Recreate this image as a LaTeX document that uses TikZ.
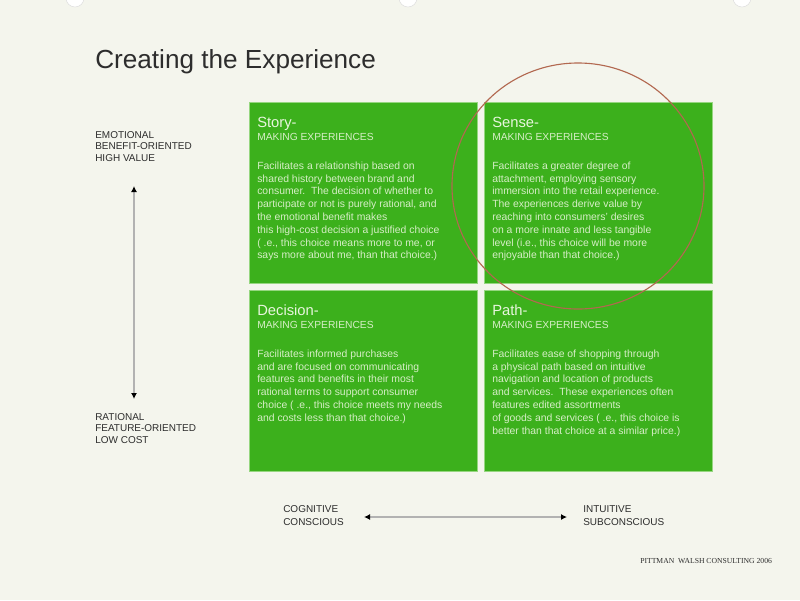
\documentclass[tikz,border=0pt]{standalone}
\usepackage{fontspec}
\setmainfont{Liberation Sans}
\newfontfamily\footfont{Liberation Serif}
\usetikzlibrary{arrows.meta}

\definecolor{bgcol}{RGB}{244,245,237}
\definecolor{quadcol}{RGB}{60,176,28}
\definecolor{edgecol}{RGB}{150,214,128}
\definecolor{bodycol}{RGB}{214,238,198}
\definecolor{headcol}{RGB}{232,246,222}
\definecolor{ringcol}{RGB}{178,104,80}
\definecolor{labcol}{RGB}{45,45,45}

\newcommand{\quadrant}[5]{%
  % #1 name, #2 x, #3 y (top left), #4 heading, #5 body
  \fill[quadcol, draw=edgecol, line width=0.6pt] (#2,#3) rectangle ++(228,181);
  \coordinate (#1) at (#2,#3);
  \node[qhead] (#1-head) at (#2+8,#3+25) {#4-};
  \node[qsub] (#1-sub) at (#2+8,#3+38.5) {MAKING EXPERIENCES};
  \node[qbody] (#1-body) at (#2+8,#3+59.5) {#5};
}

\begin{document}
\begin{tikzpicture}[x=0.025cm, y=-0.025cm,
  qhead/.style={anchor=base west, inner sep=0, text=headcol, font=\fontsize{10.5}{12}\selectfont},
  qsub/.style={anchor=base west, inner sep=0, text=bodycol, font=\fontsize{7.3}{9}\selectfont},
  qbody/.style={anchor=north west, inner sep=0, align=left, text=bodycol, font=\fontsize{7.4}{9.1}\selectfont},
  axlab/.style={anchor=north west, inner sep=0, align=left, text=labcol, font=\fontsize{7.1}{8.3}\selectfont},
  axis/.style={{Latex[length=1.5mm,width=1.5mm,black]}-{Latex[length=1.5mm,width=1.5mm,black]}, line width=1.4pt, draw=gray!60}]

% ===== PAGE =====
\useasboundingbox (0,0) rectangle (800,600);
\fill[bgcol] (0,0) rectangle (800,600);
\foreach \hx in {75,408,742}
  \fill[white, draw=gray!25] (\hx,-2) circle (9);

% ===== TITLE =====
\node[anchor=base west, inner sep=0, text=labcol, font=\fontsize{18.6}{22}\selectfont] (title) at (95,68) {Creating the Experience};

% ===== QUADRANTS =====
\quadrant{story}{249}{102}{Story}{Facilitates a relationship based on\\shared history between brand and\\consumer.\ \ The decision of whether to\\participate or not is purely rational, and\\the emotional benefit makes\\this high-cost decision a justified choice\\( .e., this choice means more to me, or\\says more about me, than that choice.)}
\quadrant{sense}{484}{102}{Sense}{Facilitates a greater degree of\\attachment, employing sensory\\immersion into the retail experience.\\The experiences derive value by\\reaching into consumers' desires\\on a more innate and less tangible\\level (i.e., this choice will be more\\enjoyable than that choice.)}
\quadrant{decision}{249}{290}{Decision}{Facilitates informed purchases\\and are focused on communicating\\features and benefits in their most\\rational terms to support consumer\\choice ( .e., this choice meets my needs\\and costs less than that choice.)}
\quadrant{path}{484}{290}{Path}{Facilitates ease of shopping through\\a physical path based on intuitive\\navigation and location of products\\and services.\ \ These experiences often\\features edited assortments\\of goods and services ( .e., this choice is\\better than that choice at a similar price.)}

% highlight ring
\draw[ringcol, line width=0.8pt] (578,186) ellipse [x radius=126, y radius=123];

% ===== AXES =====
\node[axlab] (emo) at (95,131) {EMOTIONAL\\BENEFIT-ORIENTED\\HIGH VALUE};
\node[axlab] (rat) at (95,413) {RATIONAL\\FEATURE-ORIENTED\\LOW COST};
\node[axlab, font=\fontsize{7.1}{9.2}\selectfont] (cog) at (283,505) {COGNITIVE\\CONSCIOUS};
\node[axlab, font=\fontsize{7.1}{9.2}\selectfont] (intu) at (583,505) {INTUITIVE\\SUBCONSCIOUS};

\coordinate (vtop) at (134,186);
\coordinate (vbot) at (134,399);
\coordinate (hleft) at (364,517);
\coordinate (hright) at (567,517);
\draw[axis] (vtop) -- (vbot);
\draw[axis] (hleft) -- (hright);

% footer
\node[anchor=base west, inner sep=0, text=labcol, font=\footfont\fontsize{5.45}{6.5}\selectfont] (foot) at (640,563) {PITTMAN\ \ WALSH CONSULTING 2006};

\end{tikzpicture}
\end{document}
